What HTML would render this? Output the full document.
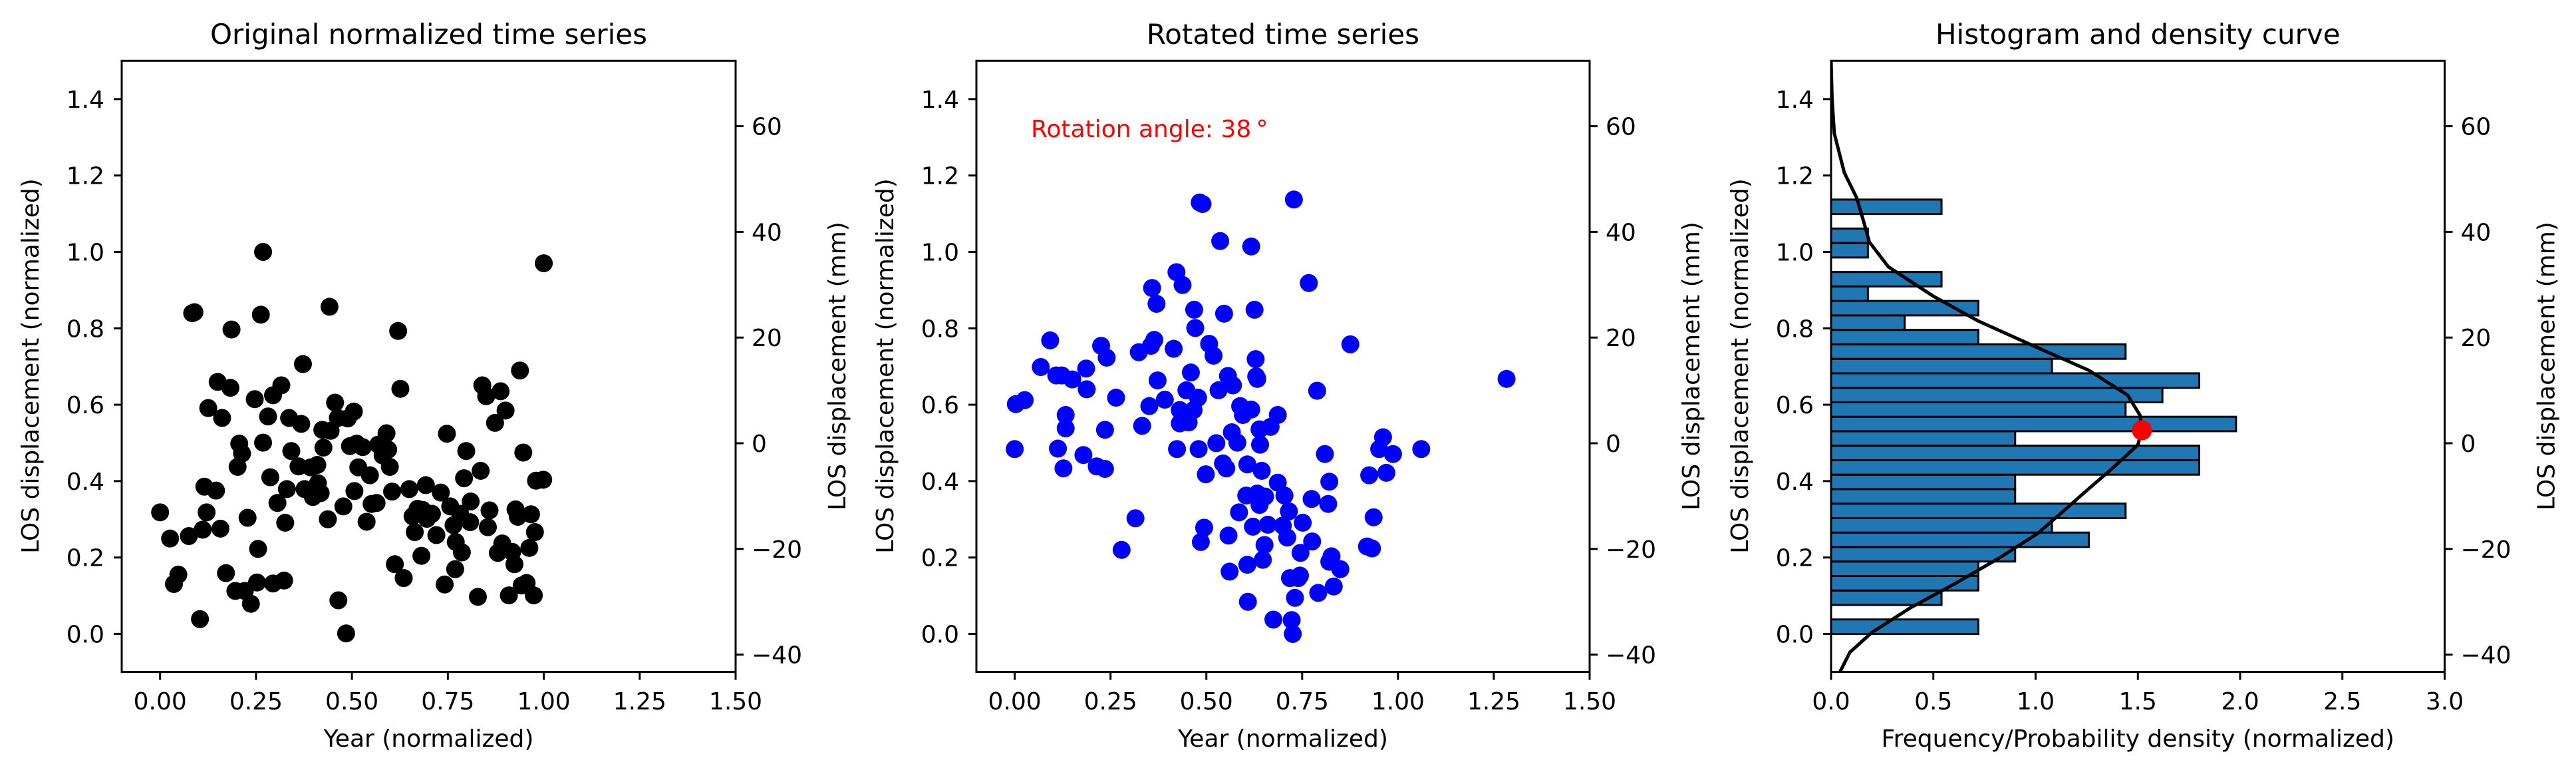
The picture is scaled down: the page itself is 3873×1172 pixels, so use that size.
<!DOCTYPE html>
<html><head><meta charset="utf-8">
<style>
html,body{margin:0;padding:0;background:#fff;}
svg{display:block;font-family:"DejaVu Sans","Liberation Sans",sans-serif;}
</style></head>
<body>
<svg id="fig" width="3873" height="1172" viewBox="0 0 3873 1172" xmlns="http://www.w3.org/2000/svg"></svg>
<script>
const p1X = [288,306,313,321,340,350,346,360,365,368,372,375,389,392,397,400,407,415,417,424,428,431,436,441,446,452,459,465,463,470,474,474,483,487,492,492,500,507,512,514,517,521,525,538,543,546,549,560,564,572,573,581,583,578,596,591,594,604,609,610,619,624,627,631,638,639,646,643,654,661,667,670,679,682,690,697,700,703,707,712,718,722,728,738,744,748,753,760,762,768,770,779,787,795,802,806,812,818,821,822,830,833,837,841,848,849,862,867,870,877,883,880,893,898,903,906,912,918,924,928,930,934,938,941,944,950,955,958,963,965,967,980,981].map(v=>(v-288)/693);
const p1Y = [1037,1090,1182,1163,1085,632,634,1253,1072,985,1037,826,993,773,1070,846,1160,785,667,1196,945,898,918,1196,1048,1222,808,1111,1179,637,896,510,843,966,1181,800,1018,780,1175,1058,990,846,913,944,858,737,990,946,1006,941,978,870,906,998,872,1051,621,815,846,1215,1025,1282,847,903,833,994,946,898,905,1056,962,1020,1018,900,922,877,910,945,995,1142,670,787,1170,990,1045,1077,1030,1125,1032,982,1050,1040,1083,997,1183,878,1025,1063,1152,1097,1040,1118,968,913,1057,1015,1208,953,780,802,1033,1067,856,1119,792,1100,831,1205,1117,1142,1031,1046,750,1185,916,1180,1109,1041,1205,1077,973,971,533].map(v=>(1283-v)/773);
const p2X = [270,272,288,317,334,345,355,348,358,362,362,374,394,399,400,418,426,433,433,436,453,463,488,494,500,513,516,518,526,522,528,541,557,562,563,568,568,573,580,584,588,593,594,596,601,602,606,612,604,609,615,621,629,634,638,641,648,646,652,656,655,658,662,664,672,677,682,675,690,688,690,691,697,697,700,703,705,706,708,712,708,712,713,716,718,721,722,727,732,737,745,745,754,757,762,765,770,772,774,776,767,782,785,786,790,801,806,807,816,818,830,836,838,838,842,846,858,876,906,910,915,918,928,935,941,953,1004,1158].map(v=>(v-270)/692);
const p2Y = [909,818,810,743,689,760,760,908,948,867,840,768,921,746,788,944,700,949,870,724,805,1113,1049,713,862,822,700,583,615,688,770,809,706,551,909,857,830,577,790,855,754,830,627,664,805,909,1097,1068,410,413,960,696,720,897,790,488,635,938,948,1084,761,1157,875,780,896,822,840,1037,940,1003,1143,1218,499,829,1066,627,727,762,999,1022,767,869,900,953,1133,1103,1005,1062,864,1254,840,977,1064,1003,1088,1035,1255,1283,404,1210,1170,1170,1165,1119,1058,573,1010,1096,791,1200,919,1020,975,1137,1126,1187,1152,697,1106,962,1110,1047,909,885,957,919,909,767].map(v=>(1283-v)/773);
const histHeights = [0.72,0,0.54,0.72,0.72,0.90,1.26,1.08,1.44,0.90,0.90,1.80,1.80,0.90,1.98,1.44,1.62,1.80,1.08,1.44,0.72,0.36,0.72,0.18,0.54,0,0.18,0.18,0,0.54];
const histBinWidth = 0.0379;
const densY = [1.5,1.40,1.31,1.207,1.142,1.078,1.026,0.961,0.884,0.819,0.754,0.69,0.625,0.573,0.534,0.495,0.431,0.366,0.314,0.263,0.198,0.133,0.069,0.004,-0.048,-0.1];
const densX = [0.0,0.005,0.016,0.065,0.125,0.16,0.187,0.28,0.50,0.72,0.99,1.26,1.45,1.51,1.52,1.50,1.37,1.23,1.12,1.01,0.82,0.61,0.39,0.20,0.092,0.043];
const peakPoint = [1.52, 0.533];
const xTicks12 = [0,0.25,0.5,0.75,1.0,1.25,1.5];
const xTickLabels12 = ["0.00","0.25","0.50","0.75","1.00","1.25","1.50"];
const xTicks3 = [0,0.5,1,1.5,2,2.5,3];
const xTickLabels3 = ["0.0","0.5","1.0","1.5","2.0","2.5","3.0"];
const yTicks = [0,0.2,0.4,0.6,0.8,1.0,1.2,1.4];
const yTickLabels = ["0.0","0.2","0.4","0.6","0.8","1.0","1.2","1.4"];
const mmTicks = [-40,-20,0,20,40,60];
const mmTickLabels = ["\u221240","\u221220","0","20","40","60"];

const NS="http://www.w3.org/2000/svg";
const svg=document.getElementById('fig');
function mk(tag,attrs,parent){const e=document.createElementNS(NS,tag);for(const k in attrs)e.setAttribute(k,attrs[k]);(parent||svg).appendChild(e);return e;}
function txt(s,attrs,parent){const e=mk('text',attrs,parent);e.textContent=s;return e;}

const Y0=91.3,Y1=1009.6;
function yScale(v){return 952.5-v*574;}
function mmScale(v){return 666-v*7.94;}
const FS=36, TFS=42;

function panel(idx,x0,x1,xmin,xmax,title,xlabel,xt,xtl){
  const g=mk('g',{});
  
  
  const xs=v=>x0+(v-xmin)/(xmax-xmin)*(x1-x0);
  const t=txt(title,{x:(x0+x1)/2,y:66,'text-anchor':'middle','font-size':TFS},g);
  
  
  xt.forEach((v,i)=>{
    const X=xs(v);
    const l=mk('line',{x1:X,x2:X,y1:Y1,y2:Y1+12,stroke:'#000','stroke-width':3},g);
    
    
    const tl=txt(xtl[i],{x:X,y:1066,'text-anchor':'middle','font-size':FS},g);
    
    
  });
  yTicks.forEach((v,i)=>{
    const Y=yScale(v);
    const l=mk('line',{x1:x0-12,x2:x0,y1:Y,y2:Y,stroke:'#000','stroke-width':3},g);
    
    
    const tl=txt(yTickLabels[i],{x:x0-26,y:Y+13,'text-anchor':'end','font-size':FS},g);
    
    
  });
  mmTicks.forEach((v,i)=>{
    const Y=mmScale(v);
    const l=mk('line',{x1:x1,x2:x1+12,y1:Y,y2:Y,stroke:'#000','stroke-width':3},g);
    
    
    const tl=txt(mmTickLabels[i],{x:x1+24,y:Y+13,'text-anchor':'start','font-size':FS},g);
    
    
  });
  const xl=txt(xlabel,{x:(x0+x1)/2,y:1122,'text-anchor':'middle','font-size':FS},g);
  
  
  const lx=x0-125, cy=550;
  const yl=txt('LOS displacement (normalized)',{x:lx,y:cy,'text-anchor':'middle','font-size':FS,transform:`rotate(-90 ${lx} ${cy})`},g);
  
  
  const rx=x1+165;
  const rl=txt('LOS displacement (mm)',{x:rx,y:cy,'text-anchor':'middle','font-size':FS,transform:`rotate(-90 ${rx} ${cy})`},g);
  
  
  return {g,xs};
}
function frame(g,x0,x1){
  const r=mk('rect',{x:x0,y:Y0,width:x1-x0,height:Y1-Y0,fill:'none',stroke:'#000','stroke-width':3},g);
  
  
}

{
 const x0=183,x1=1106;
 const {g,xs}=panel(1,x0,x1,-0.1,1.5,'Original normalized time series','Year (normalized)',xTicks12,xTickLabels12);
 p1X.forEach((v,i)=>{
   const c=mk('circle',{cx:xs(v),cy:yScale(p1Y[i]),r:13.5,fill:'#000'},g);
   
   
 });
 frame(g,x0,x1);
}
{
 const x0=1468,x1=2390;
 const {g,xs}=panel(2,x0,x1,-0.1,1.5,'Rotated time series','Year (normalized)',xTicks12,xTickLabels12);
 p2X.forEach((v,i)=>{
   const c=mk('circle',{cx:xs(v),cy:yScale(p2Y[i]),r:13.5,fill:'#0000ff'},g);
   
   
 });
 const a=txt('Rotation angle: 38\u2009\u00b0',{x:1550,y:206,'font-size':FS,fill:'#ff0000'},g);
 
 
 frame(g,x0,x1);
}
{
 const x0=2753,x1=3675.5;
 const {g,xs}=panel(3,x0,x1,0,3,'Histogram and density curve','Frequency/Probability density (normalized)',xTicks3,xTickLabels3);
 const cp=mk('clipPath',{id:'clip3'},svg);
 mk('rect',{x:x0,y:Y0,width:x1-x0,height:Y1-Y0},cp);
 const cg=mk('g',{},g);
 cg.setAttribute('clip-path','url(#clip3)');
 histHeights.forEach((h,i)=>{
   if(h<=0) return;
   const yb=yScale(i*histBinWidth), yt=yScale((i+1)*histBinWidth);
   const r=mk('rect',{x:xs(0),y:yt,width:xs(h)-xs(0),height:yb-yt,fill:'#1f77b4',stroke:'#000','stroke-width':3},cg);
   
   
 });
 const pts=densX.map((v,i)=>xs(v).toFixed(1)+','+yScale(densY[i]).toFixed(1)).join(' ');
 const pl=mk('polyline',{points:pts,fill:'none',stroke:'#000','stroke-width':5,'stroke-linejoin':'round'},cg);
 
 
 const pk=mk('circle',{cx:xs(peakPoint[0]),cy:yScale(peakPoint[1]),r:15,fill:'#ff0000'},g);
 
 
 frame(g,x0,x1);
}
</script>
</body></html>
